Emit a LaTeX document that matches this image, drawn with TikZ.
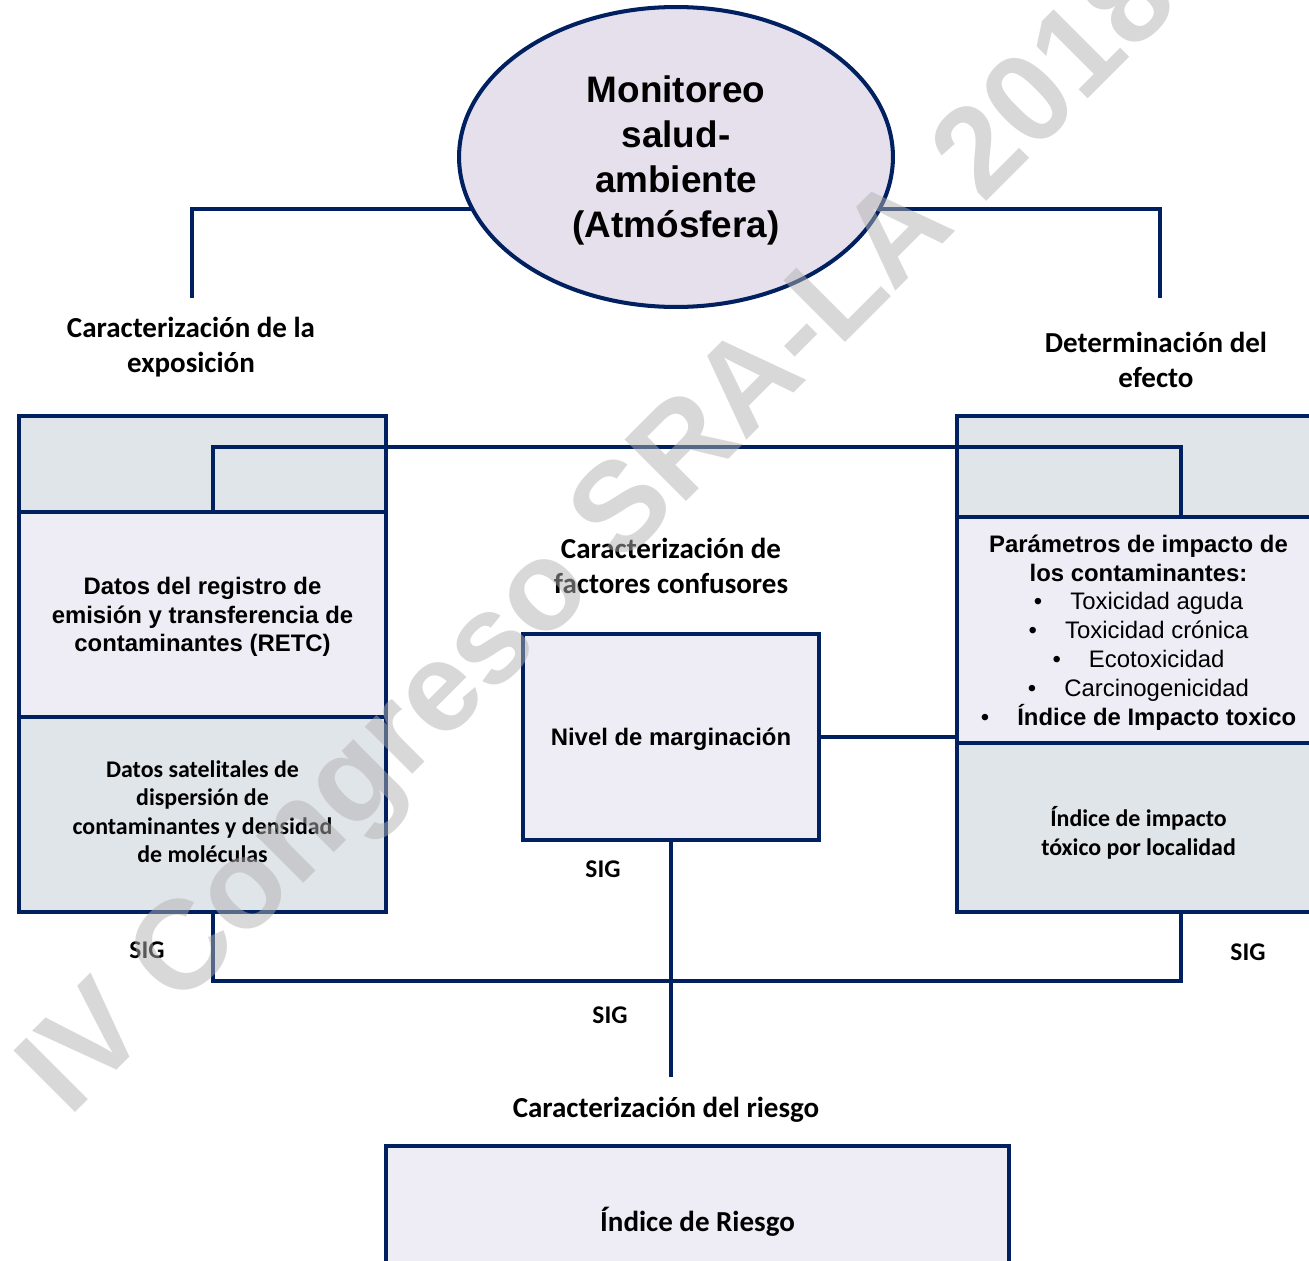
\documentclass[tikz,border=0pt]{standalone}
\usepackage{fontspec}
\setmainfont{Liberation Sans}
\newfontfamily\calibrifont{Carlito}
\definecolor{navyline}{RGB}{0,32,96}
\definecolor{lilac}{RGB}{230,224,236}
\definecolor{paleviolet}{RGB}{238,236,244}
\definecolor{palegrey}{RGB}{224,229,234}
\definecolor{wmgrey}{RGB}{177,177,177}
\usetikzlibrary{shapes.geometric,positioning,backgrounds}

\begin{document}
\begin{tikzpicture}[x=0.02cm,y=-0.02cm,line width=2.6pt,
	link/.style={draw=navyline,line width=2.6pt},
	box/.style={draw=navyline,rectangle,outer sep=0pt,inner sep=2pt,align=center,text depth=0pt,
		font=\fontsize{13.6}{16.4}\selectfont\bfseries},
	calbox/.style={box,font=\calibrifont\bfseries\fontsize{13.6}{16.5}\selectfont},
	lbl/.style={align=center,text depth=0pt,font=\calibrifont\bfseries\fontsize{16.5}{20}\selectfont},
	sig/.style={font=\calibrifont\bfseries\fontsize{14.5}{17}\selectfont},
	wmark/.style={rotate=45,text=wmgrey,text opacity=0.5,font=\fontsize{72}{72}\selectfont\bfseries}]
	\tikzstyle{ell}=[ellipse,draw=navyline,fill=lilac,line width=2.3pt,inner sep=0pt,text depth=0pt,
		minimum width=8.68cm,minimum height=6cm,align=center,
		font=\fontsize{21}{25.6}\selectfont\bfseries]
	\useasboundingbox (0,0) rectangle (1309,1261);
	
	\node[ell] (ell) at (676,157) {Monitoreo\\salud-\\ambiente\\(Atmósfera)};
	
	\node[lbl] (lexp) at (191,345) {Caracterización de la\\exposición};
	\node[lbl] (deff) at (1156,360) {Determinación del\\efecto};
	\node[lbl] (conf) at (671,566) {Caracterización de\\factores confusores};
	\node[lbl] (crie) at (666,1107) {Caracterización del riesgo};
	
	% left column
	\node[box,fill=palegrey,minimum width=7.34cm,minimum height=1.92cm] (lt) at (202.5,464) {};
	\node[box,fill=paleviolet,minimum width=7.34cm,minimum height=4.1cm] (lm) [below=0pt of lt]
		{Datos del registro de\\emisión y transferencia de\\contaminantes (RETC)};
	\node[calbox,fill=palegrey,minimum width=7.34cm,minimum height=3.9cm,text depth=3.4pt,
		font=\calibrifont\bfseries\fontsize{13.6}{16.2}\selectfont] (lb) [below=0pt of lm]
		{Datos satelitales de\\dispersión de\\contaminantes y densidad\\de moléculas};
	
	% right column
	\node[box,fill=palegrey,minimum width=7.26cm,minimum height=2.02cm] (rt) at (1138.5,466.5) {};
	\node[box,fill=paleviolet,minimum width=7.26cm,minimum height=4.52cm,text depth=-1pt] (rm) [below=0pt of rt]
		{Parámetros de impacto de\\los contaminantes:\\
		{\mdseries\textbullet\hspace{16pt}Toxicidad aguda}\\
		{\mdseries\textbullet\hspace{16pt}Toxicidad crónica}\\
		{\mdseries\textbullet\hspace{16pt}Ecotoxicidad}\\
		{\mdseries\textbullet\hspace{16pt}Carcinogenicidad}\\
		{\mdseries\textbullet}\hspace{16pt}Índice de Impacto toxico};
	\node[calbox,fill=palegrey,minimum width=7.26cm,minimum height=3.38cm] (rb) [below=0pt of rm]
		{\rule{0pt}{16pt}Índice de impacto\\tóxico por localidad};
	
	% centre
	\node[box,fill=paleviolet,minimum width=5.92cm,minimum height=4.12cm] (mid) at (671,737) {Nivel de marginación};
	\node[calbox,fill=paleviolet,minimum width=12.46cm,minimum height=2.92cm,
		font=\calibrifont\bfseries\fontsize{16.5}{20}\selectfont] (ries) at (697.5,1219) {Índice de Riesgo};
	
	\node[sig] (s1) at (147,950) {SIG};
	\node[sig] (s2) at (603,869) {SIG};
	\node[sig] (s3) at (610,1015) {SIG};
	\node[sig] (s4) at (1248,952) {SIG};
	
	\coordinate (lc) at (192,209);
	\coordinate (lend) at (192,298);
	\coordinate (rc) at (1160,209);
	\coordinate (rend) at (1160,298);
	\begin{scope}[on background layer]
		\draw[link] (lend) -- (lc) -- (lc -| ell.center);
		\draw[link] (rend) -- (rc) -- (rc -| ell.center);
	\end{scope}
	
	\coordinate (ta) at (213,447);
	\coordinate (tb) at (1181,447);
	\draw[link] (lt.south -| ta) -- (ta) -- (tb) -- (tb |- rt.south);
	\draw[link] (mid.east) -- (mid.east -| rm.west);
	\coordinate (mend) at (671,1077);
	\draw[link] (mid.south) -- (mend);
	\coordinate (ba) at (213,981);
	\coordinate (bb) at (1181,981);
	\draw[link] (lb.south -| ba) -- (ba) -- (bb) -- (rb.south -| bb);
	
	\node[wmark] (wm) at (604,540) {IV Congreso SRA-LA 2018};
\end{tikzpicture}
\end{document}
